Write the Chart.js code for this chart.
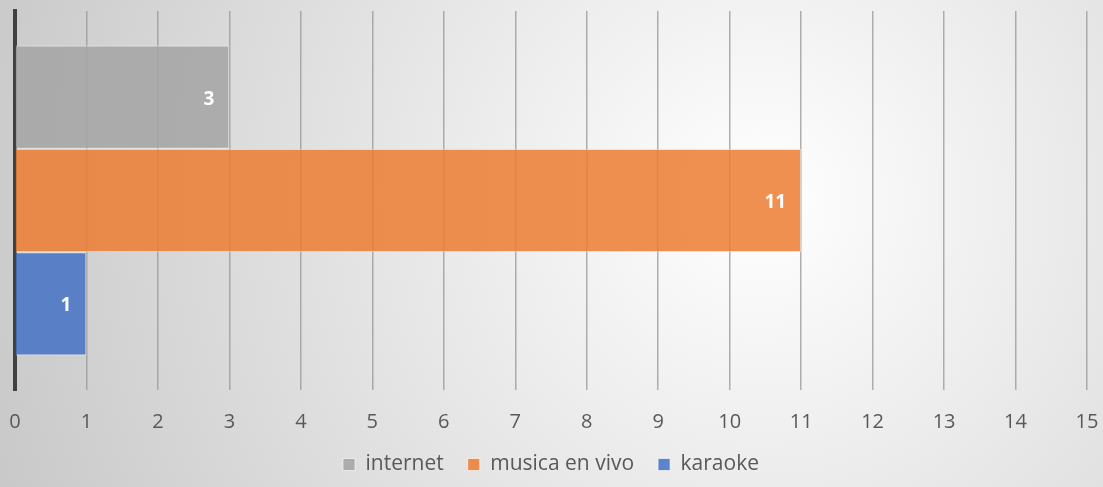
<!DOCTYPE html>
<html>
<head>
<meta charset="utf-8">
<script src="https://cdn.jsdelivr.net/npm/chart.js@4"></script>
<style>
  html, body { margin: 0; padding: 0; }
  #wrap { width: 1103px; height: 487px; }
</style>
</head>
<body>
<div id="wrap"><canvas id="bar-chart"></canvas></div>
<script>
// data
var categorias = [""];
var series = ["internet", "musica en vivo", "karaoke"];
var valores = [3, 11, 1];
var colores = ["rgba(165,165,165,0.88)", "rgba(237,125,49,0.85)", "rgba(68,114,196,0.85)"];
var ticksX = [0, 1, 2, 3, 4, 5, 6, 7, 8, 9, 10, 11, 12, 13, 14, 15];

// radial gray background like the original
const fondo = {
    id: 'fondo',
    beforeDraw(chart) {
        const ctx = chart.ctx;
        const w = chart.width, h = chart.height;
        const g = ctx.createRadialGradient(760, 200, 0, 760, 200, 820);
        g.addColorStop(0, "#ffffff");
        g.addColorStop(1, "#c8c8c8");
        ctx.save();
        ctx.fillStyle = g;
        ctx.fillRect(0, 0, w, h);
        ctx.restore();
    }
}

// white value labels inside bar end
const etiquetas = {
    id: 'etiquetas',
    afterDatasetsDraw(chart) {
        const ctx = chart.ctx;
        ctx.save();
        ctx.fillStyle = "#ffffff";
        ctx.font = "bold 19px 'Open Sans', sans-serif";
        ctx.textAlign = "right";
        ctx.textBaseline = "middle";
        chart.data.datasets.forEach(function(ds, i) {
            chart.getDatasetMeta(i).data.forEach(function(bar, j) {
                ctx.fillText(ds.data[j], bar.x - 15, bar.y + 2);
            });
        });
        ctx.restore();
    }
}

var datasets = series.map(function(nombre, i) {
    return {
        label: nombre,
        data: [valores[i]],
        backgroundColor: colores[i],
        borderColor: "rgba(255,255,255,0.6)",
        borderWidth: 1,
        barPercentage: 1,
        categoryPercentage: 0.818
    };
});

const configbar = {
    type: 'bar',
    data: { labels: categorias, datasets: datasets },
    options: {
        indexAxis: 'y',
        responsive: true,
        maintainAspectRatio: false,
        animation: false,
        layout: { padding: { top: 11, left: 15, right: 16, bottom: 2 } },
        scales: {
            x: {
                min: 0,
                max: 15,
                afterBuildTicks: function(axis) {
                    axis.ticks = ticksX.map(function(v) { return { value: v }; });
                },
                afterFit: function(axis) {
                    axis.paddingLeft = 0;
                    axis.paddingRight = 0;
                    axis.height = 40;
                },
                grid: { color: "rgba(150,150,150,0.75)", lineWidth: 1.5, drawTicks: false },
                border: { display: false },
                ticks: {
                    color: "#595959",
                    padding: 22,
                    font: { family: "'Open Sans', sans-serif", size: 20, lineHeight: 1 }
                }
            },
            y: {
                afterFit: function(axis) {
                    axis.width = 0;
                },
                grid: { display: false },
                border: { color: "#404040", width: 4 },
                ticks: { display: false }
            }
        },
        plugins: {
            legend: {
                position: 'bottom',
                labels: {
                    color: "#595959",
                    boxWidth: 12,
                    boxHeight: 12,
                    padding: 24,
                    font: { family: "'Open Sans', sans-serif", size: 21 }
                }
            },
            tooltip: { enabled: false }
        }
    },
    plugins: [fondo, etiquetas]
}

const myChart1 = new Chart(document.getElementById('bar-chart'), configbar);
</script>
</body>
</html>
